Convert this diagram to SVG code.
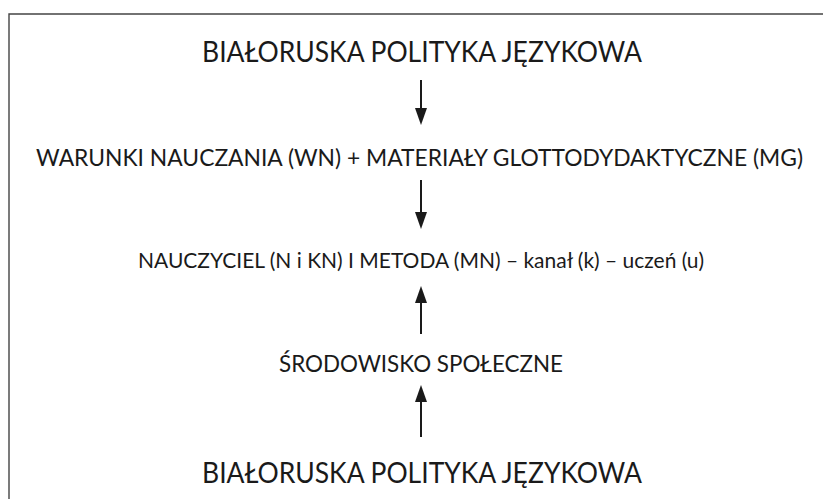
<svg xmlns="http://www.w3.org/2000/svg" width="823" height="499" viewBox="0 0 823 499">
<defs>
<style>
.t{font-family:Lato,"Open Sans","Liberation Sans",sans-serif;fill:#1a1a1a;text-anchor:middle}
.c{stroke:#1a1a1a;stroke-width:2;fill:none}
.h{fill:#1a1a1a}
</style>
</defs>
<rect width="823" height="499" fill="#fff"/>
<path d="M9,499 V14 H823" fill="none" stroke="#444" stroke-width="1.4"/>
<g id="n1"><text class="t" x="422" y="62" font-size="28.2" textLength="440" lengthAdjust="spacingAndGlyphs">BIAŁORUSKA POLITYKA JĘZYKOWA</text></g>
<g id="n2"><text class="t" x="419.5" y="166" font-size="22.6" textLength="767" lengthAdjust="spacingAndGlyphs">WARUNKI NAUCZANIA (WN) + MATERIAŁY GLOTTODYDAKTYCZNE (MG)</text></g>
<g id="n3"><text class="t" x="421" y="268" font-size="21" textLength="566" lengthAdjust="spacingAndGlyphs">NAUCZYCIEL (N i KN) I METODA (MN) – kanał (k) – uczeń (u)</text></g>
<g id="n4"><text class="t" x="421" y="372" font-size="23.8" textLength="284" lengthAdjust="spacingAndGlyphs">ŚRODOWISKO SPOŁECZNE</text></g>
<g id="n5"><text class="t" x="422" y="483" font-size="28.2" textLength="440" lengthAdjust="spacingAndGlyphs">BIAŁORUSKA POLITYKA JĘZYKOWA</text></g>
<g id="connectors">
<line class="c" x1="421" y1="80" x2="421" y2="110"/><path class="h" d="M415,108 L427,108 L421,125 Z"/>
<line class="c" x1="421" y1="180" x2="421" y2="214"/><path class="h" d="M415,212 L427,212 L421,229 Z"/>
<line class="c" x1="421" y1="334" x2="421" y2="301"/><path class="h" d="M415,303 L427,303 L421,286 Z"/>
<line class="c" x1="421" y1="437" x2="421" y2="400"/><path class="h" d="M415,402 L427,402 L421,385 Z"/>
</g>
</svg>
